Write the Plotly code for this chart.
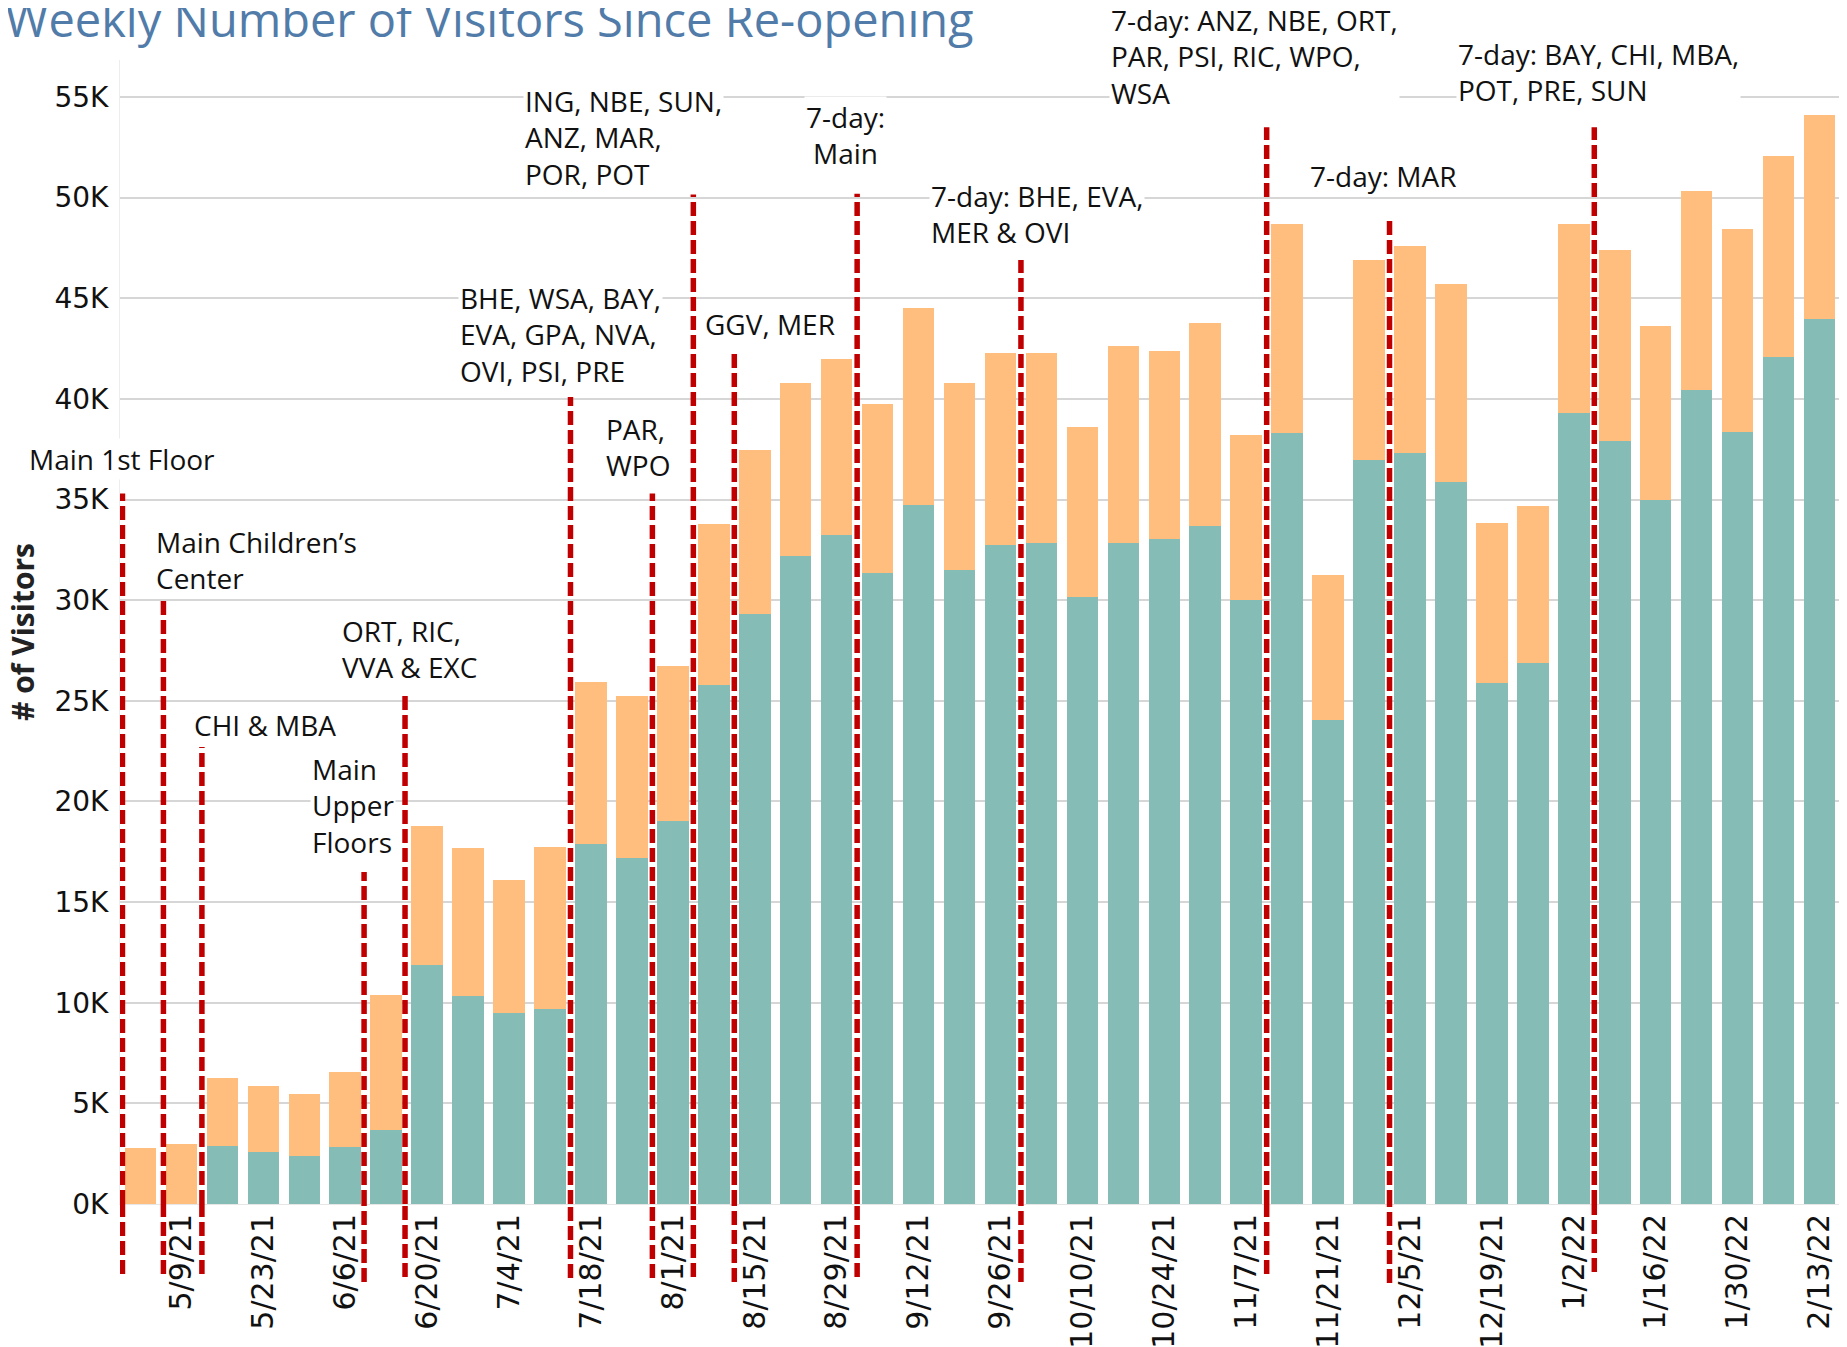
import plotly.graph_objects as go

# ---------------- data ----------------
weeks = ["5/2/21", "5/9/21", "5/16/21", "5/23/21", "5/30/21", "6/6/21", "6/13/21",
         "6/20/21", "6/27/21", "7/4/21", "7/11/21", "7/18/21", "7/25/21", "8/1/21",
         "8/8/21", "8/15/21", "8/22/21", "8/29/21", "9/5/21", "9/12/21", "9/19/21",
         "9/26/21", "10/3/21", "10/10/21", "10/17/21", "10/24/21", "10/31/21", "11/7/21",
         "11/14/21", "11/21/21", "11/28/21", "12/5/21", "12/12/21", "12/19/21", "12/26/21",
         "1/2/22", "1/9/22", "1/16/22", "1/23/22", "1/30/22", "2/6/22", "2/13/22"]

visitors_teal = [0, 0, 2890, 2580, 2370, 2820, 3690,
                 11890, 10320, 9480, 9710, 17900, 17200, 19040,
                 25800, 29320, 32200, 33230, 31360, 34740, 31480,
                 32760, 32850, 30170, 32850, 33020, 33710, 30030,
                 38290, 24030, 36970, 37290, 35870, 25900, 26900,
                 39290, 37920, 34970, 40420, 38380, 42070, 43970]

visitors_orange = [2760, 2980, 3370, 3290, 3090, 3750, 6710,
                   6880, 7350, 6610, 8020, 8040, 8040, 7690,
                   7980, 8130, 8600, 8740, 8370, 9760, 9320,
                   9530, 9440, 8450, 9760, 9340, 10060, 8190,
                   10390, 7230, 9930, 10290, 9840, 7940, 7780,
                   9420, 9490, 8640, 9910, 10050, 9980, 10120]

tick_weeks = weeks[1::2]

y_tick_vals = [0, 5000, 10000, 15000, 20000, 25000, 30000, 35000, 40000, 45000, 50000, 55000]
y_tick_text = ["0K", "5K", "10K", "15K", "20K", "25K", "30K", "35K", "40K", "45K", "50K", "55K"]

# re-opening events: position (week index), top of marker line, label
event_pos = [-0.44, 0.56, 1.5, 5.46, 6.46, 10.5, 12.5, 13.5, 14.5, 17.5, 21.5, 27.5, 30.5, 35.5]
event_top = [35300, 30200, 22700, 16500, 25300, 40100, 35300, 50200, 42300, 50200, 46900, 53500, 49000, 53500]
event_bottom_px = [70, 70, 70, 78, 73, 74, 74, 73, 78, 73, 78, 70, 79, 68]

labels_text = [
    "Main 1st Floor",
    "Main Children’s<br>Center",
    "CHI & MBA",
    "Main<br>Upper<br>Floors",
    "ORT, RIC,<br>VVA & EXC",
    "BHE, WSA, BAY,<br>EVA, GPA, NVA,<br>OVI, PSI, PRE",
    "PAR,<br>WPO",
    "ING, NBE, SUN,<br>ANZ, MAR,<br>POR, POT",
    "GGV, MER",
    "7-day:<br>Main",
    "7-day: BHE, EVA,<br>MER & OVI",
    "7-day: ANZ, NBE, ORT,<br>PAR, PSI, RIC, WPO,<br>WSA",
    "7-day: MAR",
    "7-day: BAY, CHI, MBA,<br>POT, PRE, SUN",
]
labels_x = [-0.44, 0.34, 1.25, 4.15, 4.88, 7.76, 11.33, 9.35, 13.73, 17.22, 19.26, 23.64, 28.52, 32.13]
labels_xshift = [-95, 0, 0, 0, 0, 0, 0, 0, 0, 0, 0, 0, 0, 0]
labels_y = [37000, 32000, 23800, 19800, 27600, 43200, 37600, 53000, 43700, 53100, 49200, 55000, 51070, 56250]
labels_yshift = [0, 0, 0, 0, 0, 0, 0, 0, 0, 0, 0, 41, 0, 0]
labels_anchor = ["left"] * 9 + ["center"] + ["left"] * 4

# ---------------- figure ----------------
TEAL = "#86BCB6"
ORANGE = "#FFBE7D"
RED = "#C00000"

# page body has an 8px margin, so the figure is made 16px smaller than the window
W, H = 1839, 1339
M_L, M_R, M_T, M_B = 112, 7, 52, 143
plot_h = H - M_T - M_B

fig = go.Figure()
fig.add_trace(go.Bar(x=weeks, y=visitors_teal, marker=dict(color=TEAL, line=dict(width=0)),
                     name="teal", hoverinfo="x+y"))
fig.add_trace(go.Bar(x=weeks, y=visitors_orange, marker=dict(color=ORANGE, line=dict(width=0)),
                     name="orange", hoverinfo="x+y"))

shapes = []
for p, top, bpx in zip(event_pos, event_top, event_bottom_px):
    shapes.append(dict(type="line", xref="x", yref="y", x0=p, x1=p, y0=0, y1=top,
                       line=dict(color=RED, width=5.5, dash="14px,5px"), layer="above"))
    shapes.append(dict(type="line", xref="x", yref="paper", x0=p, x1=p, y0=-bpx / plot_h, y1=0,
                       line=dict(color=RED, width=5.5, dash="14px,5px"), layer="above"))

annotations = []
for t, x, xs, y, ys, a in zip(labels_text, labels_x, labels_xshift, labels_y, labels_yshift, labels_anchor):
    annotations.append(dict(text=t, x=x, y=y, xref="x", yref="y", xshift=xs, yshift=ys,
                            xanchor=a, yanchor="middle",
                            align=a, showarrow=False, bgcolor="white", borderpad=1,
                            font=dict(family="Open Sans", size=28, color="#111111")))

# title
annotations.append(dict(text="Weekly Number of Visitors Since Re-opening", xref="paper", yref="paper",
                        x=0, y=1, xshift=-117, yshift=7, xanchor="left", yanchor="bottom",
                        showarrow=False, font=dict(family="Open Sans", size=47, color="#517CA9")))
# y-axis title
annotations.append(dict(text="<b># of Visitors</b>", xref="paper", yref="paper", x=0, y=0.5,
                        xshift=-98, xanchor="center", yanchor="middle", textangle=-90,
                        showarrow=False, font=dict(family="Open Sans", size=30, color="#222222")))

fig.update_layout(
    width=W, height=H,
    margin=dict(l=M_L, r=M_R, t=M_T, b=M_B, autoexpand=False),
    paper_bgcolor="white", plot_bgcolor="white",
    barmode="stack", bargap=0.23, showlegend=False,
    shapes=shapes, annotations=annotations,
    xaxis=dict(type="category", categoryorder="array", categoryarray=weeks,
               range=[-0.5, len(weeks) - 0.5], autorange=False,
               tickvals=tick_weeks, ticktext=tick_weeks, tickangle=-90,
               tickfont=dict(family="DejaVu Sans", size=30, color="#111111"),
               showgrid=False, showline=True, linecolor="#E6E6E6", linewidth=1, ticks="",
               automargin=False, ticklabelstandoff=-3),
    yaxis=dict(range=[0, 56840], autorange=False, tickvals=y_tick_vals, ticktext=y_tick_text,
               tickfont=dict(family="DejaVu Sans", size=28, color="#111111"),
               showgrid=True, gridcolor="#D6D6D6", gridwidth=1.5, zeroline=False,
               showline=True, linecolor="#EDEDED", linewidth=1, ticks="", ticklabelstandoff=5,
               automargin=False),
)

fig.write_html("out.html")
